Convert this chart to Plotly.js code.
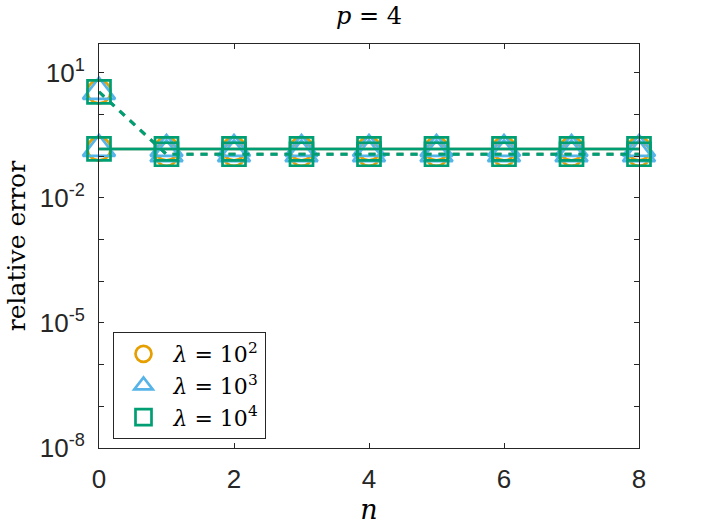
<!DOCTYPE html>
<html>
<head>
<meta charset="utf-8">
<script src="https://cdn.plot.ly/plotly-3.0.1.min.js"></script>
<style>html,body{margin:0;padding:0;background:#fff;}#chart{width:706px;height:530px;}</style>
</head>
<body>
<div id="chart"></div>
<script>
// Iteration index n
const n = [0, 1, 2, 3, 4, 5, 6, 7, 8];
// Solid-line series (relative error), per lambda
const solid_l2 = [0.149, 0.149, 0.149, 0.149, 0.149, 0.149, 0.149, 0.149, 0.149];
const solid_l3 = [0.149, 0.149, 0.149, 0.149, 0.149, 0.149, 0.149, 0.149, 0.149];
const solid_l4 = [0.149, 0.149, 0.149, 0.149, 0.149, 0.149, 0.149, 0.149, 0.149];
// Dashed-line series (relative error), per lambda
const dashed_l2 = [3.5, 0.111, 0.111, 0.111, 0.111, 0.111, 0.111, 0.111, 0.111];
const dashed_l3 = [3.5, 0.111, 0.111, 0.111, 0.111, 0.111, 0.111, 0.111, 0.111];
const dashed_l4 = [3.5, 0.111, 0.111, 0.111, 0.111, 0.111, 0.111, 0.111, 0.111];
const seriesNames = ["<i>λ</i>&nbsp;=&nbsp;10<sup>2</sup>", "<i>λ</i>&nbsp;=&nbsp;10<sup>3</sup>", "<i>λ</i>&nbsp;=&nbsp;10<sup>4</sup>"];
const yTickVals = [1e-8, 1e-7, 1e-6, 1e-5, 1e-4, 1e-3, 1e-2, 1e-1, 1e0, 1e1];
const yTickText = ["10<sup>-8</sup>", "", "", "10<sup>-5</sup>", "", "", "10<sup>-2</sup>", "", "", "10<sup>1</sup>"];
const xTickVals = [0, 2, 4, 6, 8];

const colors = ["#E69F00", "#56B4E9", "#009E73"];
const symbols = ["circle-open", "triangle-up-open", "square-open"];
const sizes = [23, 28, 23];
const solids = [solid_l2, solid_l3, solid_l4];
const dasheds = [dashed_l2, dashed_l3, dashed_l4];

const traces = [];
for (let i = 0; i < 3; i++) {
  traces.push({x: n, y: solids[i], mode: "lines", line: {color: colors[i], width: 2.6}, showlegend: false, hoverinfo: "skip"});
  traces.push({x: n, y: dasheds[i], mode: "lines", line: {color: colors[i], width: 3, dash: "7px,7px"}, showlegend: false, hoverinfo: "skip"});
  traces.push({x: n.concat(n), y: solids[i].concat(dasheds[i]), mode: "markers", name: seriesNames[i],
    marker: {symbol: symbols[i], size: sizes[i], color: colors[i], line: {color: colors[i], width: 2.7}}, cliponaxis: false});
}

const serif = "DejaVu Serif";
const axisCommon = {showline: true, linecolor: "#262626", linewidth: 1, mirror: "ticks", ticks: "inside",
  tickcolor: "#262626", showgrid: false, zeroline: false,
  tickfont: {family: "Liberation Sans", size: 26, color: "#262626"}};

const layout = {
  width: 706, height: 530,
  margin: {l: 99, r: 67, t: 44, b: 82},
  paper_bgcolor: "#fff", plot_bgcolor: "#fff",
  title: {text: "<i>p</i>&nbsp;=&nbsp;4", x: 0.5, xanchor: "center", xref: "paper", y: 0.97, yanchor: "middle",
    font: {family: serif, size: 24, color: "#000"}},
  xaxis: Object.assign({}, axisCommon, {range: [0, 8], tickvals: xTickVals, ticklen: 5, ticklabelstandoff: 8,
    title: {text: "<i>n</i>", standoff: 6, font: {family: serif, size: 27, color: "#000"}}}),
  yaxis: Object.assign({}, axisCommon, {type: "log", range: [-8, 1.69], tickvals: yTickVals, ticktext: yTickText, ticklen: 5, ticklabelstandoff: 8,
    title: {text: "relative error", standoff: 6, font: {family: serif, size: 25, color: "#000"}}}),
  legend: {x: 0.025, xanchor: "left", y: 0.287, yanchor: "top", bgcolor: "#fff", bordercolor: "#262626", borderwidth: 1,
    font: {family: serif, size: 22, color: "#000"}, tracegroupgap: 0, itemwidth: 50},
  showlegend: true
};

Plotly.newPlot("chart", traces, layout, {displayModeBar: false, staticPlot: true}).then(function () {
  document.querySelectorAll(".legend .scatterpts path").forEach(function (p) {
    const t = p.getAttribute("transform") || "";
    p.setAttribute("transform", t + " scale(1.4)");
  });
});
</script>
</body>
</html>
